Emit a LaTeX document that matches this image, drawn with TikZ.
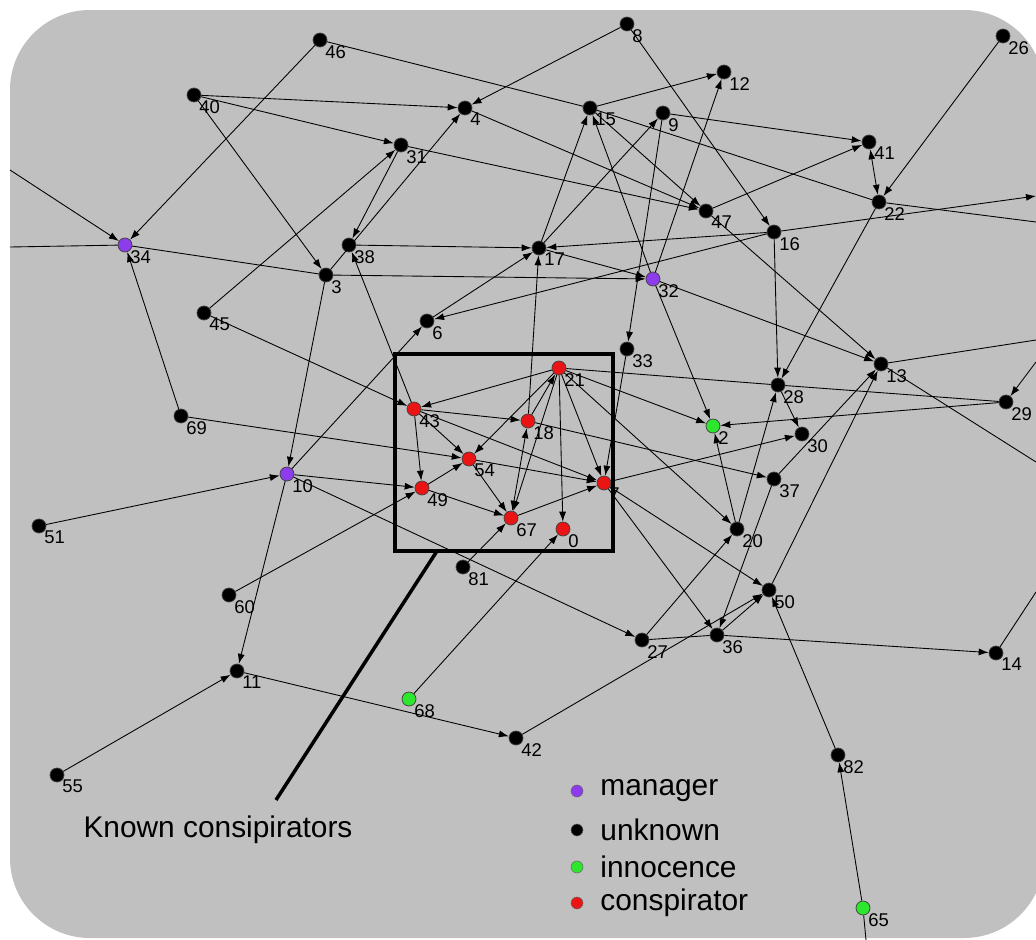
\documentclass[tikz,border=0pt]{standalone}
\usepackage{fontspec}
\setmainfont{Liberation Sans}
\usetikzlibrary{arrows.meta}
\definecolor{bggray}{RGB}{192,192,192}
\definecolor{mgrpurple}{RGB}{140,60,235}
\definecolor{inngreen}{RGB}{45,230,45}
\definecolor{conred}{RGB}{235,20,20}
\tikzset{
  dot/.style={circle, inner sep=0pt, minimum size=0.28cm, draw=black!75, line width=0.4pt},
  unk/.style={dot, fill=black},
  mgr/.style={dot, fill=mgrpurple},
  inn/.style={dot, fill=inngreen},
  con/.style={dot, fill=conred},
  key/.style={circle, inner sep=0pt, minimum width=0.18cm, minimum height=0.24cm, draw=black!60, line width=0.3pt},
  lbl/.style={font=\fontsize{10.5}{12}\selectfont, inner sep=0.5pt},
  big/.style={font=\fontsize{17}{20}\selectfont, inner sep=0pt},
  >={Latex[length=2mm,width=1.4mm]},
}
\begin{document}
\begin{tikzpicture}[x=0.02cm, y=-0.02cm, line width=0.5pt, label distance=-1pt]
    \useasboundingbox (0,0) rectangle (1036,940);
    \fill [white] (0,0) rectangle (1036,940);
    \fill [bggray, rounded corners=1.6cm] (10,10) rectangle (1044,938);

    %% unknown
    \node (n46) [unk, label={[lbl]-45:46}] at (320,40) {};
    \node (n40) [unk, label={[lbl]-45:40}] at (194,95) {};
    \node (n4)  [unk, label={[lbl]-45:4}]  at (465,108) {};
    \node (n31) [unk, label={[lbl]-45:31}] at (401,145) {};
    \node (n38) [unk, label={[lbl]-45:38}] at (349,245) {};
    \node (n3)  [unk, label={[lbl]-45:3}]  at (326,275) {};
    \node (n45) [unk, label={[lbl]-45:45}] at (204,313) {};
    \node (n6)  [unk, label={[lbl]-45:6}]  at (427,321) {};
    \node (n69) [unk, label={[lbl]-45:69}] at (181,416) {};
    \node (n51) [unk, label={[lbl]-45:51}] at (39,526) {};
    \node (n60) [unk, label={[lbl]-45:60}] at (229,595) {};
    \node (n11) [unk, label={[lbl]-45:11}] at (237,671) {};
    \node (n55) [unk, label={[lbl]-45:55}] at (57,775) {};
    \node (n42) [unk, label={[lbl]-45:42}] at (516,738) {};
    \node (n81) [unk, label={[lbl]-45:81}] at (463,567) {};
    \node (n27) [unk, label={[lbl]-45:27}] at (642,640) {};
    \node (n36) [unk, label={[lbl]-45:36}] at (717,635) {};
    \node (n50) [unk, label={[lbl]-45:50}] at (769,590) {};
    \node (n20) [unk, label={[lbl]-45:20}] at (737,529) {};
    \node (n37) [unk, label={[lbl]-45:37}] at (774,479) {};
    \node (n30) [unk, label={[lbl]-45:30}] at (802,434) {};
    \node (n28) [unk, label={[lbl]-45:28}] at (778,385) {};
    \node (n13) [unk, label={[lbl]-45:13}] at (881,364) {};
    \node (n29) [unk, label={[lbl]-45:29}] at (1006,402) {};
    \node (n14) [unk, label={[lbl]-45:14}] at (996,653) {};
    \node (n82) [unk, label={[lbl]-45:82}] at (838,755) {};
    \node (n8)  [unk, label={[lbl]-45:8}]  at (627,24) {};
    \node (n12) [unk, label={[lbl]-45:12}] at (724,72) {};
    \node (n15) [unk, label={[lbl]-45:15}] at (590,108) {};
    \node (n9)  [unk, label={[lbl]-45:9}]  at (663,113) {};
    \node (n41) [unk, label={[lbl]-45:41}] at (869,142) {};
    \node (n22) [unk, label={[lbl]-45:22}] at (879,202) {};
    \node (n47) [unk, label={[lbl]-45:47}] at (706,211) {};
    \node (n16) [unk, label={[lbl]-45:16}] at (774,232) {};
    \node (n17) [unk, label={[lbl]-45:17}] at (539,248) {};
    \node (n33) [unk, label={[lbl]-45:33}] at (627,349) {};
    \node (n26) [unk, label={[lbl]-45:26}] at (1003,36) {};

    %% managers and innocents
    \node (n34) [mgr, label={[lbl]-45:34}] at (125,245) {};
    \node (n10) [mgr, label={[lbl]-45:10}] at (287,474) {};
    \node (n32) [mgr, label={[lbl]-45:32}] at (653,279) {};
    \node (n2)  [inn, label={[lbl]-45:2}]  at (713,426) {};
    \node (n68) [inn, label={[lbl]-45:68}] at (409,699) {};
    \node (n65) [inn, label={[lbl]-45:65}] at (863,908) {};

    %% conspirators
    \node (n21) [con, label={[lbl]-45:21}] at (559,368) {};
    \node (n43) [con, label={[lbl]-45:43}] at (414,409) {};
    \node (n18) [con, label={[lbl]-45:18}] at (528,421) {};
    \node (n54) [con, label={[lbl]-45:54}] at (469,459) {};
    \node (n49) [con, label={[lbl]-45:49}] at (422,488) {};
    \node (n67) [con, label={[lbl]-45:67}] at (511,518) {};
    \node (n7)  [con, label={[lbl]-45:7}]  at (604,483) {};
    \node (n0)  [con, label={[lbl]-45:0}]  at (563,529) {};

    %% loose ends at the border
    \coordinate (w1) at (10,170);
    \coordinate (w2) at (10,247);
    \coordinate (e1) at (1036,196);
    \coordinate (e2) at (1036,222);
    \coordinate (e3) at (1036,340);
    \coordinate (e4) at (1036,462);
    \coordinate (e5) at (1036,362);
    \coordinate (e6) at (1036,592);
    \coordinate (s1) at (866,940);

    \draw [->] (w1) -- (n34);
    \draw [-] (w2) -- (n34);
    \draw [->] (n46) -- (n34);
    \draw [-] (n46) -- (n15);
    \draw [->] (n40) -- (n4);
    \draw [->] (n40) -- (n31);
    \draw [->] (n40) -- (n3);
    \draw [->] (n8) -- (n4);
    \draw [->] (n8) -- (n16);
    \draw [->] (n3) -- (n4);
    \draw [->] (n31) -- (n38);
    \draw [->] (n45) -- (n31);
    \draw [->] (n31) -- (n47);
    \draw [->] (n4) -- (n47);
    \draw [-] (n34) -- (n3);
    \draw [->] (n69) -- (n34);
    \draw [->] (n3) -- (n10);
    \draw [->] (n3) -- (n32);
    \draw [->] (n38) -- (n17);
    \draw [->] (n43) -- (n38);
    \draw [->] (n45) -- (n43);
    \draw [->] (n10) -- (n6);
    \draw [->] (n6) -- (n17);
    \draw [->] (n16) -- (n6);
    \draw [->] (n16) -- (n17);
    \draw [->] (n18) -- (n17);
    \draw [->] (n17) -- (n15);
    \draw [->] (n17) -- (n9);
    \draw [->] (n17) -- (n32);
    \draw [->] (n32) -- (n15);
    \draw [->] (n32) -- (n12);
    \draw [->] (n15) -- (n12);
    \draw [->] (n15) -- (n47);
    \draw [-] (n15) -- (n22);
    \draw [->] (n9) -- (n41);
    \draw [->] (n47) -- (n41);
    \draw [<->] (n41) -- (n22);
    \draw [->] (n26) -- (n22);
    \draw [->] (n16) -- (e1);
    \draw [-] (n22) -- (e2);
    \draw [->] (n22) -- (n28);
    \draw [->] (n16) -- (n28);
    \draw [->] (n47) -- (n13);
    \draw [->] (n32) -- (n13);
    \draw [->] (n32) -- (n2);
    \draw [->] (n9) -- (n33);
    \draw [->] (n33) -- (n7);
    \draw [-] (n13) -- (e3);
    \draw [-] (n13) -- (e4);
    \draw [->] (e5) -- (n29);
    \draw [-] (n14) -- (e6);
    \draw [-] (n28) -- (n29);
    \draw [->] (n29) -- (n2);
    \draw [-] (n21) -- (n28);
    \draw [->] (n28) -- (n30);
    \draw [->] (n7) -- (n30);
    \draw [->] (n37) -- (n13);
    \draw [->] (n50) -- (n13);
    \draw [->] (n18) -- (n37);
    \draw [->] (n20) -- (n2);
    \draw [->] (n20) -- (n28);
    \draw [->] (n37) -- (n36);
    \draw [->] (n27) -- (n20);
    \draw [->] (n21) -- (n20);
    \draw [->] (n21) -- (n2);
    \draw [->] (n7) -- (n50);
    \draw [->] (n7) -- (n36);
    \draw [->] (n36) -- (n50);
    \draw [->] (n82) -- (n50);
    \draw [->] (n65) -- (n82);
    \draw [-] (n65) -- (s1);
    \draw [-] (n27) -- (n36);
    \draw [->] (n36) -- (n14);
    \draw [->] (n42) -- (n50);
    \draw [->] (n10) -- (n27);
    \draw [->] (n81) -- (n67);
    \draw [->] (n68) -- (n0);
    \draw [->] (n11) -- (n42);
    \draw [->] (n55) -- (n11);
    \draw [->] (n10) -- (n11);
    \draw [->] (n60) -- (n49);
    \draw [->] (n51) -- (n10);
    \draw [->] (n69) -- (n54);
    \draw [->] (n10) -- (n49);

    %% inside the box
    \draw [->] (n21) -- (n43);
    \draw [->] (n43) -- (n18);
    \draw [->] (n43) -- (n49);
    \draw [->] (n43) -- (n54);
    \draw [->] (n43) -- (n7);
    \draw [->] (n21) -- (n54);
    \draw [->] (n18) -- (n21);
    \draw [<->] (n18) -- (n67);
    \draw [->] (n21) -- (n67);
    \draw [->] (n21) -- (n0);
    \draw [->] (n21) -- (n7);
    \draw [->] (n54) -- (n67);
    \draw [->] (n49) -- (n67);
    \draw [->] (n54) -- (n7);
    \draw [->] (n67) -- (n7);
    \draw [->] (n49) -- (n54);

    %% box round the known ones
    \draw [line width=2.2pt] (395,354) rectangle (613,551);
    \coordinate (boxfoot) at (437,551);
    \node (known) [big] at (218,830) {Known consipirators};
    \draw [line width=2pt] (276,800) -- (boxfoot);

    %% legend
    \node (kmgr) [key, fill=mgrpurple] at (577,791) {};
    \node (kunk) [key, fill=black] at (577,830) {};
    \node (kinn) [key, fill=inngreen] at (577,867) {};
    \node (kcon) [key, fill=conred] at (577,903) {};
    \node [big, anchor=west] at (600,791) {manager};
    \node [big, anchor=west] at (600,830) {unknown};
    \node [big, anchor=west] at (600,867) {innocence};
    \node [big, anchor=west] at (600,903) {conspirator};
\end{tikzpicture}
\end{document}
